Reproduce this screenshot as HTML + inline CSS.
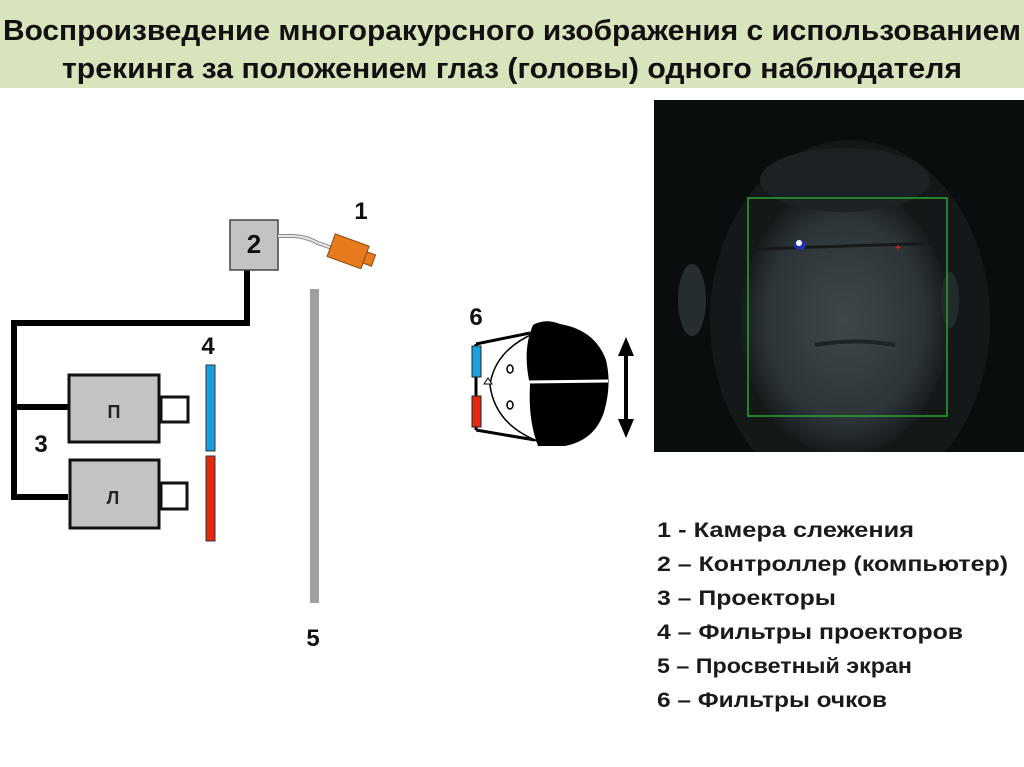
<!DOCTYPE html>
<html><head><meta charset="utf-8"><style>
html,body{margin:0;padding:0;background:#fff;}
svg{display:block;}
text{font-family:"Liberation Sans",sans-serif;font-weight:bold;}
</style></head><body>
<svg width="1024" height="767" viewBox="0 0 1024 767" xmlns="http://www.w3.org/2000/svg">
<defs>
<radialGradient id="fg" cx="0.5" cy="0.5" r="0.5">
<stop offset="0" stop-color="#3e484b"/><stop offset="0.75" stop-color="#2c3437"/><stop offset="1" stop-color="#161b1d"/>
</radialGradient>
<clipPath id="pc"><rect x="654" y="100" width="370" height="352"/></clipPath>
</defs>
<rect x="0" y="0" width="1024" height="88" fill="#d8e4bc"/>
<text x="512" y="40" font-size="29" text-anchor="middle" fill="#111" textLength="1018" lengthAdjust="spacingAndGlyphs">Воспроизведение многоракурсного изображения с использованием</text>
<text x="512" y="78" font-size="29" text-anchor="middle" fill="#111" textLength="900" lengthAdjust="spacingAndGlyphs">трекинга за положением глаз (головы) одного наблюдателя</text>

<!-- wires -->
<polyline points="247,270 247,323 14,323 14,497 68,497" fill="none" stroke="#000" stroke-width="6"/>
<line x1="14" y1="407" x2="68" y2="407" stroke="#000" stroke-width="6"/>
<!-- controller -->
<rect x="230" y="220" width="48" height="50" fill="#c3c3c3" stroke="#444" stroke-width="1.5"/>
<text x="254" y="253" font-size="26" text-anchor="middle" fill="#111">2</text>
<!-- cable & camera -->
<path d="M278,236 L292,236 Q305,236 318,243 L332,248" fill="none" stroke="#888" stroke-width="4"/>
<path d="M278,236 L292,236 Q305,236 318,243 L332,248" fill="none" stroke="#e8e8e8" stroke-width="2"/>
<g transform="rotate(20 350 252)">
<rect x="330" y="240" width="36" height="24" fill="#e87a1e" stroke="#8a4a10" stroke-width="1"/>
<rect x="366" y="246" width="9" height="12" fill="#e87a1e" stroke="#8a4a10" stroke-width="1"/>
</g>
<text x="361" y="219" font-size="24" text-anchor="middle" fill="#111">1</text>
<!-- projectors -->
<rect x="69" y="375" width="90" height="67" fill="#c3c3c3" stroke="#111" stroke-width="3"/>
<rect x="161" y="397" width="27" height="25" fill="#fff" stroke="#111" stroke-width="3"/>
<text x="114" y="418" font-size="18" text-anchor="middle" fill="#222" font-family="Liberation Serif">П</text>
<rect x="70" y="460" width="89" height="68" fill="#c3c3c3" stroke="#111" stroke-width="3"/>
<rect x="161" y="483" width="26" height="26" fill="#fff" stroke="#111" stroke-width="3"/>
<text x="113" y="504" font-size="18" text-anchor="middle" fill="#222" font-family="Liberation Serif">Л</text>
<text x="41" y="452" font-size="24" text-anchor="middle" fill="#111">3</text>
<!-- filters -->
<rect x="206" y="365" width="9" height="86" fill="#1aa0e0" stroke="#333" stroke-width="1"/>
<rect x="206" y="456" width="9" height="85" fill="#e02a10" stroke="#333" stroke-width="1"/>
<text x="208" y="354" font-size="24" text-anchor="middle" fill="#111">4</text>
<!-- screen -->
<rect x="310" y="289" width="9" height="314" fill="#a0a0a0"/>
<text x="313" y="646" font-size="24" text-anchor="middle" fill="#111">5</text>
<!-- head -->
<text x="476" y="325" font-size="24" text-anchor="middle" fill="#111">6</text>
<line x1="476" y1="344" x2="530" y2="333" stroke="#000" stroke-width="3"/>
<line x1="476" y1="430" x2="535" y2="440" stroke="#000" stroke-width="3"/>
<line x1="476" y1="344" x2="476" y2="430" stroke="#000" stroke-width="3"/>
<path d="M535,333 Q495,350 490,385 Q495,425 540,442 Z" fill="#fff" stroke="#000" stroke-width="1.5"/>
<path d="M533,325 Q545,318 560,324 Q595,330 606,360 Q612,385 604,412 Q595,440 565,446 L538,446 Q528,420 530,385 Q522,350 533,325 Z" fill="#000"/>
<line x1="528" y1="382" x2="608" y2="381" stroke="#fff" stroke-width="3"/>
<rect x="472" y="346" width="9" height="31" fill="#1aa0e0" stroke="#222" stroke-width="1"/>
<rect x="472" y="396" width="9" height="31" fill="#e02a10" stroke="#222" stroke-width="1"/>
<path d="M484,384 L488,378 L492,384 Z" fill="#fff" stroke="#000" stroke-width="1"/>
<ellipse cx="510" cy="369" rx="3" ry="4" fill="none" stroke="#000" stroke-width="1.5"/>
<ellipse cx="510" cy="405" rx="3" ry="4" fill="none" stroke="#000" stroke-width="1.5"/>
<!-- arrow -->
<line x1="626" y1="350" x2="626" y2="424" stroke="#000" stroke-width="4"/>
<polygon points="626,337 618,356 634,356" fill="#000"/>
<polygon points="626,438 618,419 634,419" fill="#000"/>
<!-- photo -->
<g clip-path="url(#pc)">
<rect x="654" y="100" width="370" height="352" fill="#0a0d0e"/>
<ellipse cx="850" cy="320" rx="140" ry="180" fill="#141819"/>
<ellipse cx="845" cy="320" rx="105" ry="135" fill="url(#fg)"/>
<ellipse cx="692" cy="300" rx="14" ry="36" fill="#262d30"/>
<ellipse cx="950" cy="300" rx="9" ry="28" fill="#222a2c"/>
<ellipse cx="845" cy="180" rx="85" ry="32" fill="#1c2224"/>
<line x1="725" y1="250" x2="940" y2="243" stroke="#15191a" stroke-width="3"/>
<ellipse cx="800" cy="245" rx="6" ry="5" fill="#2233aa"/>
<circle cx="799" cy="243" r="3" fill="#fff"/>
<text x="898" y="251" font-size="10" fill="#cc2222" text-anchor="middle">+</text>
<path d="M815,345 Q855,338 895,345" fill="none" stroke="#1e2426" stroke-width="4"/>
<rect x="748" y="198" width="199" height="218" fill="none" stroke="#2aa52a" stroke-width="1.5"/>
</g>
<!-- legend -->
<g font-size="21" fill="#1a1a1a">
<text x="657" y="537" textLength="257" lengthAdjust="spacingAndGlyphs">1 - Камера слежения</text>
<text x="657" y="571" textLength="351" lengthAdjust="spacingAndGlyphs">2 – Контроллер (компьютер)</text>
<text x="657" y="605" textLength="179" lengthAdjust="spacingAndGlyphs">3 – Проекторы</text>
<text x="657" y="639" textLength="306" lengthAdjust="spacingAndGlyphs">4 – Фильтры проекторов</text>
<text x="657" y="673" textLength="255" lengthAdjust="spacingAndGlyphs">5 – Просветный экран</text>
<text x="657" y="707" textLength="230" lengthAdjust="spacingAndGlyphs">6 – Фильтры очков</text>
</g>
</svg>
</body></html>
